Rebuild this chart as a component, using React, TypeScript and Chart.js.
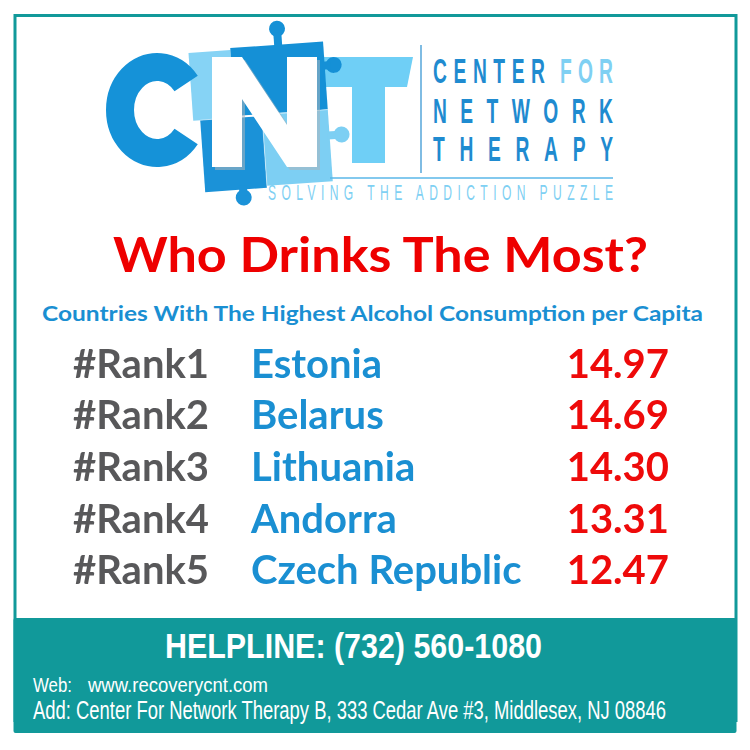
import { useEffect, useRef } from 'react'
import { Chart, registerables } from 'chart.js'

Chart.register(...registerables)

// ranking data
const rankLabels = ['#Rank1', '#Rank2', '#Rank3', '#Rank4', '#Rank5']
const countries = ['Estonia', 'Belarus', 'Lithuania', 'Andorra', 'Czech Republic']
const litresPerCapita = [14.97, 14.69, 14.3, 13.31, 12.47]

const TEAL = '#11999a'
const BLUE = '#1a8fd2'
const DARK_BLUE = '#1f8bd0'
const LIGHT_BLUE = '#7fd0f3'
const RED = '#ee0a0a'
const GRAY = '#58585a'

const ROW_FONT = "bold 40px Lato, 'Open Sans', sans-serif"
const NARROW = "'Liberation Sans Narrow', 'Liberation Sans', Arial, sans-serif"

// draws the three columns of every row at the category positions of the y scale
const rowTextPlugin = {
  id: 'rowText',
  afterDatasetsDraw(chart: Chart) {
    const ctx = chart.ctx
    const yScale = chart.scales.y
    ctx.save()
    ctx.font = ROW_FONT
    ctx.textBaseline = 'alphabetic'
    rankLabels.forEach((rank, i) => {
      const y = yScale.getPixelForValue(i) + 14
      ctx.textAlign = 'left'
      ctx.fillStyle = GRAY
      ctx.fillText(rank, 73, y)
      ctx.fillStyle = BLUE
      ctx.fillText(countries[i], 251, y)
      ctx.textAlign = 'right'
      ctx.fillStyle = RED
      ctx.fillText(litresPerCapita[i].toFixed(2), 669, y)
    })
    ctx.restore()
  }
}

function Logo() {
  const cx = 157
  const cy = 110
  const rx = 37
  const ry = 43
  const a = (38 * Math.PI) / 180
  const x1 = cx + rx * Math.cos(a)
  const yTop = cy - ry * Math.sin(a)
  const yBot = cy + ry * Math.sin(a)
  const nPts = '212,167 212,57 242,57 287,125 287,57 317,57 317,167 287,167 242,99 242,167'
  const spaced = (txt: string, x: number, y: number, w: number, size: number, fill: string, bold: boolean) => (
    <text
      transform={`translate(${x},${y}) scale(0.55,1)`}
      fontFamily={NARROW}
      fontWeight={bold ? 'bold' : 'normal'}
      fontSize={size}
      fill={fill}
      textLength={w / 0.55}
      lengthAdjust="spacing"
    >
      {txt}
    </text>
  )
  return (
    <g>
      {/* T (behind the puzzle) */}
      <polygon points="318,57 413,57 407,87 318,87" fill="#6fcff6" />
      <rect x={352} y={57} width={33} height={106} fill="#6fcff6" />
      {/* puzzle pieces */}
      <g transform="rotate(-4 262 115)">
        <rect x={193} y={48} width={42} height={68} fill="#86d3f5" />
        <rect x={235} y={46} width={93} height={68} fill="#1590d6" />
        <rect x={200} y={116} width={62} height={72} fill="#1b92d8" />
        <rect x={262} y={114} width={66} height={72} fill="#7dcff3" />
        <circle cx={283} cy={30} r={8} fill="#1590d6" />
        <rect x={279} y={34} width={8} height={14} fill="#1590d6" />
        <circle cx={238} cy={196} r={8} fill="#1b92d8" />
        <rect x={234} y={184} width={8} height={10} fill="#1b92d8" />
        <circle cx={337} cy={70} r={8} fill="#1590d6" />
        <rect x={326} y={66} width={8} height={8} fill="#1590d6" />
        <circle cx={340} cy={140} r={8} fill="#7dcff3" />
        <rect x={326} y={136} width={8} height={8} fill="#7dcff3" />
        <line x1={262} y1={114} x2={262} y2={188} stroke="#ffffff" strokeWidth={1} opacity={0.5} />
        <line x1={200} y1={116} x2={328} y2={114} stroke="#ffffff" strokeWidth={1} opacity={0.5} />
      </g>
      {/* C */}
      <path
        d={`M ${x1} ${yTop} A ${rx} ${ry} 0 1 0 ${x1} ${yBot}`}
        fill="none"
        stroke="#1592d8"
        strokeWidth={28}
      />
      {/* N */}
      <polygon points={nPts} fill="#a9b4bc" opacity={0.55} transform="translate(3,3)" />
      <polygon points={nPts} fill="#ffffff" />
      <line x1={421} y1={45} x2={421} y2={173} stroke="#2a8fd0" strokeWidth={1.2} />
      <line x1={330} y1={178} x2={613} y2={178} stroke="#5ab7e8" strokeWidth={1.5} />
      {spaced('CENTER', 433, 83, 112, 35, DARK_BLUE, true)}
      {spaced('FOR', 560, 83, 53, 35, LIGHT_BLUE, true)}
      {spaced('NETWORK', 433, 123, 180, 35, DARK_BLUE, true)}
      {spaced('THERAPY', 433, 161, 180, 35, DARK_BLUE, true)}
      {spaced('SOLVING THE ADDICTION PUZZLE', 268, 200, 345, 22, LIGHT_BLUE, false)}
    </g>
  )
}

export default function App() {
  const canvasRef = useRef<HTMLCanvasElement>(null)
  const chartRef = useRef<Chart | null>(null)

  useEffect(() => {
    if (!canvasRef.current) return
    chartRef.current = new Chart(canvasRef.current, {
      type: 'bar',
      data: {
        labels: rankLabels,
        datasets: [
          {
            label: 'Litres per capita',
            data: litresPerCapita,
            backgroundColor: 'rgba(0,0,0,0)',
            borderWidth: 0
          }
        ]
      },
      options: {
        indexAxis: 'y',
        responsive: false,
        animation: false,
        layout: { padding: 0 },
        plugins: {
          legend: { display: false },
          tooltip: { enabled: false },
          title: { display: false }
        },
        scales: {
          x: { display: false, min: 0, max: 16 },
          y: { display: false }
        }
      },
      plugins: [rowTextPlugin]
    })
    return () => {
      chartRef.current?.destroy()
      chartRef.current = null
    }
  }, [])

  return (
    <div style={{ position: 'fixed', left: 0, top: 0, width: 750, height: 750, background: '#ffffff' }}>
      <svg width={750} height={750} style={{ position: 'absolute', left: 0, top: 0 }}>
        <rect x={15} y={15.5} width={721} height={705} fill="#ffffff" stroke={TEAL} strokeWidth={3} />
        <rect x={13.5} y={618} width={723} height={115} fill={TEAL} rx={2} />
        <Logo />
        <text
          x={113}
          y={272}
          fontFamily="Lato, 'Open Sans', sans-serif"
          fontWeight="bold"
          fontSize={48}
          fill="#ee0000"
          textLength={535}
          lengthAdjust="spacingAndGlyphs"
        >
          Who Drinks The Most?
        </text>
        <text
          x={42}
          y={321}
          fontFamily="Lato, 'Open Sans', sans-serif"
          fontWeight="bold"
          fontSize={21}
          fill={BLUE}
          textLength={661}
          lengthAdjust="spacingAndGlyphs"
        >
          Countries With The Highest Alcohol Consumption per Capita
        </text>
        <text
          x={165}
          y={658}
          fontFamily={NARROW}
          fontWeight="bold"
          fontSize={35}
          fill="#ffffff"
          textLength={377}
          lengthAdjust="spacingAndGlyphs"
        >
          HELPLINE: (732) 560-1080
        </text>
        <text x={33} y={692} fontFamily={NARROW} fontSize={20} fill="#ffffff" textLength={39} lengthAdjust="spacingAndGlyphs">
          Web:
        </text>
        <text x={88} y={692} fontFamily={NARROW} fontSize={20} fill="#ffffff" textLength={180} lengthAdjust="spacingAndGlyphs">
          www.recoverycnt.com
        </text>
        <text x={33} y={719} fontFamily={NARROW} fontSize={25} fill="#ffffff" textLength={633} lengthAdjust="spacingAndGlyphs">
          Add: Center For Network Therapy B, 333 Cedar Ave #3, Middlesex, NJ 08846
        </text>
      </svg>
      <canvas
        ref={canvasRef}
        width={750}
        height={258}
        style={{ position: 'absolute', left: 0, top: 338, width: 750, height: 258 }}
      />
    </div>
  )
}
